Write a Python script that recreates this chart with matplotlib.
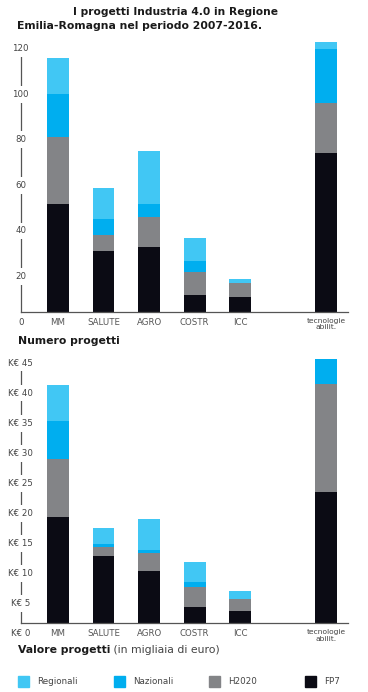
import numpy as np
import matplotlib
matplotlib.use("Agg")
import matplotlib.pyplot as plt
from matplotlib.patches import Rectangle

# dati
categorie = ["MM", "SALUTE", "AGRO", "COSTR", "ICC", "tecnologie\nabilit."]
serie = ["FP7", "H2020", "Nazionali", "Regionali"]

# numero progetti
num_fp7 = [52, 31, 33, 12, 11, 74]
num_h2020 = [29, 7, 13, 10, 6, 22]
num_naz = [19, 7, 6, 5, 0, 24]
num_reg = [16, 14, 23, 10, 2, 3]

# valore progetti (K€)
val_fp7 = [19.3, 12.9, 10.4, 4.4, 3.75, 23.6]
val_h2020 = [9.8, 1.5, 3.0, 3.3, 2.0, 18.0]
val_naz = [6.2, 0.5, 0.5, 0.9, 0.0, 4.15]
val_reg = [6.0, 2.7, 5.2, 3.3, 1.35, 0.0]

num_ticks = [20, 40, 60, 80, 100, 120]
val_ticks = [5, 10, 15, 20, 25, 30, 35, 40, 45]

colori = {"FP7": "#0b0b14", "H2020": "#838487",
          "Nazionali": "#00aeef", "Regionali": "#41c7f4"}

W, H = 368, 692
fig = plt.figure(figsize=(W / 100, H / 100), dpi=100)
plt.rcParams['font.family'] = ['DejaVu Sans']

def box(left, top, right, bottom):
    # rettangolo in pixel -> frazioni della figura
    return [left / W, 1 - bottom / H, (right - left) / W, (bottom - top) / H]

xpos = np.array([0, 1, 2, 3, 4, 5.89])
larg = 0.48
grigio = "#555555"

def grafico(ax, dati, ticks, ymin, ymax, fmt):
    base = np.zeros(len(categorie))
    for nome, vals in zip(serie, dati):
        ax.bar(xpos, vals, larg, bottom=base, color=colori[nome], zorder=2)
        base = base + np.array(vals)
    ax.set_xlim(-0.82, 6.37)
    ax.set_ylim(ymin, ymax)
    for s in ["top", "right"]:
        ax.spines[s].set_visible(False)
    for s in ["left", "bottom"]:
        ax.spines[s].set_color(grigio)
        ax.spines[s].set_linewidth(0.9)
    ax.spines["left"].set_bounds(ymin, ticks[-1])
    ax.set_xticks([])
    ax.set_yticks([])
    tr = ax.get_yaxis_transform()
    for t in [0] + ticks:
        ax.text(0, t, fmt(t), transform=tr, ha="center", va="center",
                fontsize=6.2, color="#444444", zorder=5,
                bbox=dict(boxstyle="square,pad=0.45", fc="white", ec="none"))
    for x, c in zip(xpos, categorie):
        if "\n" in c:
            ax.annotate(c, xy=(x, 0), xytext=(0, -1.5), textcoords="offset points",
                        ha="center", va="center", fontsize=5.4, color="#444444",
                        linespacing=1.1, annotation_clip=False)
        else:
            ax.annotate(c, xy=(x, 0), ha="center", va="center", fontsize=6.2,
                        color="#555555", annotation_clip=False)

# grafico numero progetti
ax1 = fig.add_axes(box(20.7, 39.5, 348, 312))
grafico(ax1, [num_fp7, num_h2020, num_naz, num_reg], num_ticks, 4.4, 124,
        lambda t: f"{t}")

# grafico valore progetti
ax2 = fig.add_axes(box(20.7, 356.5, 348, 623))
grafico(ax2, [val_fp7, val_h2020, val_naz, val_reg], val_ticks, 1.7, 46.1,
        lambda t: f"K€ {t}")

# titoli
fig.text(73 / W, 1 - 12 / H, "I progetti Industria 4.0 in Regione", fontsize=7.7,
         fontweight="bold", color="#1a1a1a", va="center")
fig.text(17 / W, 1 - 26 / H, "Emilia-Romagna nel periodo 2007-2016.", fontsize=7.8,
         fontweight="bold", color="#1a1a1a", va="center")
fig.text(18 / W, 1 - 341 / H, "Numero progetti", fontsize=7.8,
         fontweight="bold", color="#1a1a1a", va="center")
t = fig.text(18 / W, 1 - 653 / H, "Valore progetti", fontsize=7.8,
             fontweight="bold", color="#1a1a1a", va="baseline")
resto = fig.text(0, 0, " (in migliaia di euro)", fontsize=7.8, color="#444444",
                 va="baseline")
# sposto la parte non in grassetto subito dopo
r = fig.canvas.get_renderer()
bb = t.get_window_extent(r)
resto.set_position((bb.x1 / W, t.get_position()[1]))

# legenda
ordine = ["Regionali", "Nazionali", "H2020", "FP7"]
for i, nome in enumerate(ordine):
    x0 = 18 + i * 95.7
    fig.patches.append(Rectangle((x0 / W, 1 - 687.2 / H), 11 / W, 11 / H,
                                 transform=fig.transFigure, color=colori[nome]))
    fig.text((x0 + 19) / W, 1 - 681.7 / H, nome, fontsize=6.3, color="#444444",
             va="center")

plt.savefig("out.png", dpi=100)
